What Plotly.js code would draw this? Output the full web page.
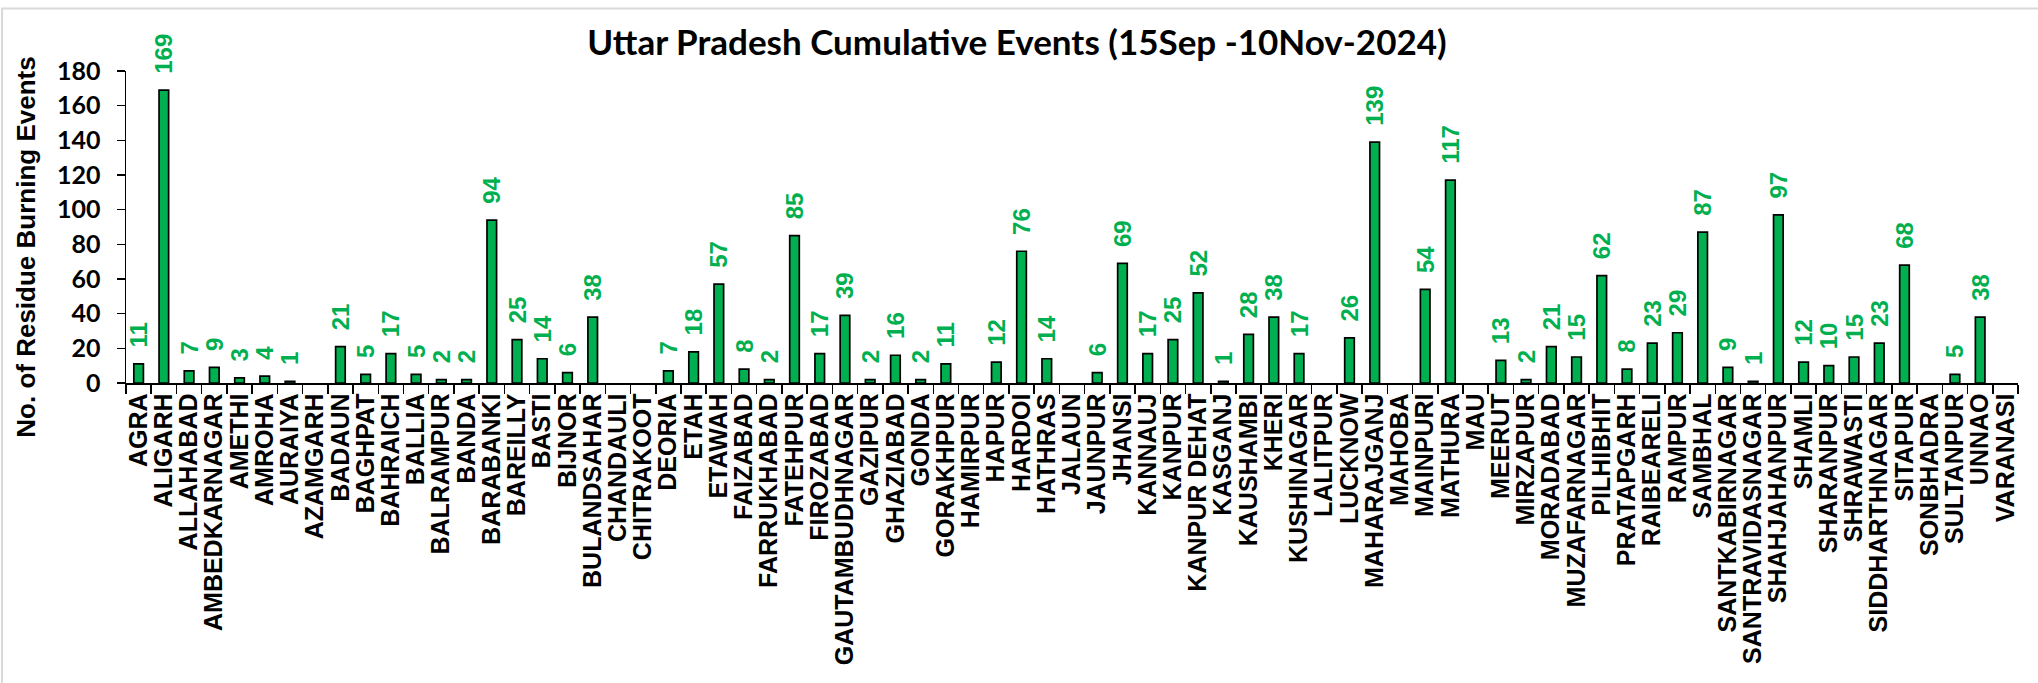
<!DOCTYPE html>
<html>
<head>
<meta charset="utf-8">
<script src="https://cdn.plot.ly/plotly-3.0.1.min.js"></script>
<style>
html,body{margin:0;padding:0;background:#fff;}
#chart{width:2038px;height:683px;}
</style>
</head>
<body>
<div id="chart"></div>
<script>
const districts = ["AGRA","ALIGARH","ALLAHABAD","AMBEDKARNAGAR","AMETHI","AMROHA","AURAIYA","AZAMGARH","BADAUN","BAGHPAT","BAHRAICH","BALLIA","BALRAMPUR","BANDA","BARABANKI","BAREILLY","BASTI","BIJNOR","BULANDSAHAR","CHANDAULI","CHITRAKOOT","DEORIA","ETAH","ETAWAH","FAIZABAD","FARRUKHABAD","FATEHPUR","FIROZABAD","GAUTAMBUDHNAGAR","GAZIPUR","GHAZIABAD","GONDA","GORAKHPUR","HAMIRPUR","HAPUR","HARDOI","HATHRAS","JALAUN","JAUNPUR","JHANSI","KANNAUJ","KANPUR","KANPUR DEHAT","KASGANJ","KAUSHAMBI","KHERI","KUSHINAGAR","LALITPUR","LUCKNOW","MAHARAJGANJ","MAHOBA","MAINPURI","MATHURA","MAU","MEERUT","MIRZAPUR","MORADABAD","MUZAFARNAGAR","PILHIBHIT","PRATAPGARH","RAIBEARELI","RAMPUR","SAMBHAL","SANTKABIRNAGAR","SANTRAVIDASNAGAR","SHAHJAHANPUR","SHAMLI","SHARANPUR","SHRAWASTI","SIDDHARTHNAGAR","SITAPUR","SONBHADRA","SULTANPUR","UNNAO","VARANASI"];
const events = [11,169,7,9,3,4,1,null,21,5,17,5,2,2,94,25,14,6,38,null,null,7,18,57,8,2,85,17,39,2,16,2,11,null,12,76,14,null,6,69,17,25,52,1,28,38,17,null,26,139,null,54,117,null,13,2,21,15,62,8,23,29,87,9,1,97,12,10,15,23,68,null,5,38,null];
const yTicks = [0,20,40,60,80,100,120,140,160,180];
const chartTitle = "Uttar Pradesh Cumulative Events (15Sep -10Nov-2024)";
const yTitle = "No. of Residue Burning Events";

const sans = "'Liberation Sans', Arial, sans-serif";

const trace = {
  type: 'bar',
  x: districts,
  y: events,
  marker: {color: '#00B050', line: {color: '#000000', width: 1.7}},
  texttemplate: '\u00A0\u00A0%{y}',
  textposition: 'outside',
  textangle: -90,
  constraintext: 'none',
  cliponaxis: false,
  textfont: {family: sans, size: 24, color: '#00B050', weight: 'bold'},
  hoverinfo: 'x+y'
};

const layout = {
  width: 2038, height: 683,
  margin: {l: 126, r: 20, t: 71, b: 300},
  paper_bgcolor: '#ffffff', plot_bgcolor: '#ffffff',
  showlegend: false,
  bargap: 0.62,
  title: {
    text: chartTitle,
    font: {family: "Lato, 'Open Sans', sans-serif", size: 35, color: '#000', weight: 'bold'},
    x: 0.499, xref: 'container', xanchor: 'center',
    y: 0.938, yref: 'container', yanchor: 'middle'
  },
  xaxis: {
    type: 'category',
    tickmode: 'linear', tick0: 0, dtick: 1,
    showline: true, linecolor: '#000', linewidth: 1.5,
    ticks: 'outside', tickson: 'boundaries', ticklen: 9, tickwidth: 1.5, tickcolor: '#000',
    tickangle: -90,
    ticklabelstandoff: -1,
    tickfont: {family: sans, size: 25, color: '#000', weight: 'bold'},
    showgrid: false, zeroline: false, fixedrange: true
  },
  yaxis: {
    range: [0, 180],
    tickvals: yTicks,
    showline: true, linecolor: '#000', linewidth: 1.5,
    ticks: 'outside', ticklen: 8, tickwidth: 1.5, tickcolor: '#000',
    ticklabelstandoff: 11,
    tickfont: {family: "Lato, sans-serif", size: 25, color: '#000', weight: 'bold'},
    showgrid: false, zeroline: false, fixedrange: true
  },
  annotations: [{
    text: yTitle,
    xref: 'paper', yref: 'paper',
    x: -0.053, y: 0.436,
    xanchor: 'center', yanchor: 'middle',
    textangle: -90, showarrow: false,
    font: {family: sans, size: 26, color: '#000', weight: 'bold'}
  }],
  shapes: [{
    type: 'rect', xref: 'paper', yref: 'paper',
    x0: -0.0655, x1: 1.2, y0: -3, y1: 1.2,
    line: {color: '#d9d9d9', width: 2}, fillcolor: 'rgba(0,0,0,0)', layer: 'below'
  }]
};

Plotly.newPlot('chart', [trace], layout, {displayModeBar: false, staticPlot: true});
</script>
</body>
</html>
